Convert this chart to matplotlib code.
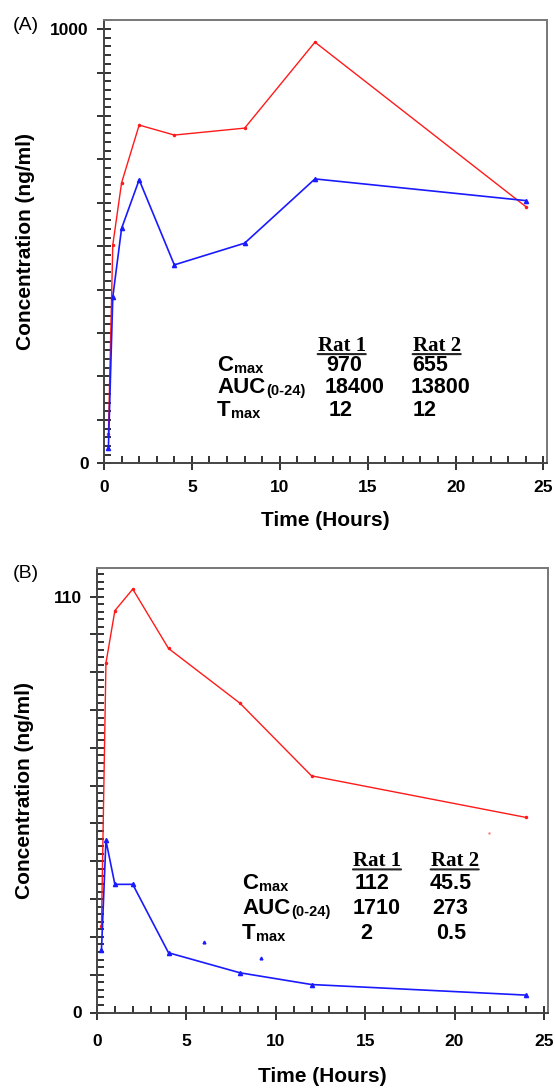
import numpy as np
import matplotlib
matplotlib.use("Agg")
import matplotlib.pyplot as plt
from matplotlib.ticker import MultipleLocator, FuncFormatter

plt.rcParams['font.family'] = ['Liberation Sans', 'DejaVu Sans']

# sampling times (hours)
time = [0.25, 0.5, 1, 2, 4, 8, 12, 24]

# panel A concentrations (ng/ml)
a_rat1 = [67, 503, 646, 779, 756, 772, 970, 591]
a_rat2 = [35, 383, 541, 653, 457, 507, 655, 605]

# panel B concentrations (ng/ml)
b_rat1 = [23, 92.4, 106.3, 112, 96.3, 81.8, 62.6, 51.6]
b_rat2 = [16.5, 45.5, 33.9, 33.9, 15.8, 10.5, 7.4, 4.6]

# a few loose specks in panel B
b_speck_x_blue = [6.0, 9.2]
b_speck_y_blue = [18.7, 14.5]
b_speck_x_red = [21.95]
b_speck_y_red = [47.6]

# summary tables
heads = ['Rat 1', 'Rat 2']
row_main = ['C', 'AUC', 'T']
row_sub = ['max', '(0-24)', 'max']
a_vals = [['970', '655'], ['18400', '13800'], ['12', '12']]
b_vals = [['112', '45.5'], ['1710', '273'], ['2', '0.5']]

RED = '#ff1a1a'
BLUE = '#1a1aff'
TICK = '#222222'


def style_axes(ax, ymax, ymajor, yminor, ylabels, xpad):
    ax.set_xlim(0, 25.2)
    ax.set_ylim(0, ymax)
    ax.xaxis.set_major_locator(MultipleLocator(5))
    ax.xaxis.set_minor_locator(MultipleLocator(1))
    ax.yaxis.set_major_locator(MultipleLocator(ymajor))
    ax.yaxis.set_minor_locator(MultipleLocator(yminor))
    ax.yaxis.set_major_formatter(FuncFormatter(
        lambda v, p: ('%d' % round(v)) if any(abs(v - l) < 1e-6 for l in ylabels) else ''))
    ax.tick_params(axis='x', which='major', direction='inout', length=10, width=1.3,
                   color=TICK, labelsize=12.5, pad=xpad, bottom=True, top=False)
    ax.tick_params(axis='x', which='minor', direction='in', length=5, width=1.3,
                   color=TICK, bottom=True, top=False)
    ax.tick_params(axis='y', which='major', direction='inout', length=10, width=1.3,
                   color=TICK, labelsize=12.5, pad=6, left=True, right=False)
    ax.tick_params(axis='y', which='minor', direction='in', length=5, width=1.3,
                   color=TICK, left=True, right=False)
    for lab in ax.get_xticklabels() + ax.get_yticklabels():
        lab.set_fontweight('bold')
    for s in ax.spines.values():
        s.set_color('#444444')
        s.set_linewidth(1.4)
    ax.spines['top'].set_color('#777777')
    ax.spines['right'].set_color('#777777')


def draw_table(ax, vals, hx, hy, lx, rows_y, vx, fs_lab=16, fs_val=15.5):
    for h, x in zip(heads, hx):
        t = ax.text(x, hy, h, transform=ax.transAxes, ha='center', va='baseline',
                    fontsize=15, fontweight='bold', family='Liberation Serif')
        ax.annotate('', xy=(1.0, 0.08), xycoords=t, xytext=(0.0, 0.08), textcoords=t,
                    arrowprops=dict(arrowstyle='-', lw=1.5, color='#222222',
                                    shrinkA=0, shrinkB=0))
    for i, y in enumerate(rows_y):
        t = ax.text(lx, y, row_main[i], transform=ax.transAxes, ha='left', va='baseline',
                    fontsize=fs_lab, fontweight='bold')
        ax.annotate(row_sub[i], xy=(1, 0), xycoords=t, xytext=(0.5, 0),
                    textcoords='offset points', ha='left', va='bottom',
                    fontsize=10.5, fontweight='bold')
        for j in range(2):
            ax.text(vx[i][j], y, vals[i][j], transform=ax.transAxes, ha='center',
                    va='baseline', fontsize=fs_val, fontweight='bold')


fig = plt.figure(figsize=(5.55, 10.89), dpi=100)
axA = fig.add_axes([104 / 555, 1 - 463.3 / 1089, 443 / 555, 443.3 / 1089])
axB = fig.add_axes([97 / 555, 1 - 1012.5 / 1089, 450.5 / 555, 444.2 / 1089])

# panel A
axA.plot(time, a_rat1, color=RED, lw=1.0, marker='.', ms=3)
axA.plot(time, a_rat2, color=BLUE, lw=1.2, marker='^', ms=3)
style_axes(axA, 1021, 100, 20, [0, 1000], 7)
axA.set_xlabel('Time (Hours)', fontsize=15, fontweight='bold')
axA.xaxis.set_label_coords(0.5, -0.128)
axA.xaxis.label.set_va('center')
axA.set_ylabel('Concentration (ng/ml)', fontsize=15, fontweight='bold')
axA.yaxis.set_label_coords(-0.178, 0.5)
axA.yaxis.label.set_va('center')
draw_table(axA, a_vals, [0.5366, 0.751], 0.254, 0.255, [0.2082, 0.158, 0.106],
           [[0.5418, 0.7359], [0.5666, 0.760], [0.534, 0.7246]])
fig.text(13 / 555, 1 - 25.5 / 1089, '(A)', fontsize=14, va='center', ha='left')

# panel B
axB.plot(time, b_rat1, color=RED, lw=1.0, marker='.', ms=3)
axB.plot(time, b_rat2, color=BLUE, lw=1.2, marker='^', ms=3)
axB.plot(b_speck_x_blue, b_speck_y_blue, ls='none', marker='^', ms=2, color=BLUE)
axB.plot(b_speck_x_red, b_speck_y_red, ls='none', marker='.', ms=1.5, color='#ff8080')
style_axes(axB, 117.5, 10, 2, [0, 110], 10.4)
axB.set_xlabel('Time (Hours)', fontsize=15, fontweight='bold')
axB.xaxis.set_label_coords(0.5, -0.1452)
axB.xaxis.label.set_va('center')
axB.set_ylabel('Concentration (ng/ml)', fontsize=15, fontweight='bold')
axB.yaxis.set_label_coords(-0.16, 0.5)
axB.yaxis.label.set_va('center')
draw_table(axB, b_vals, [0.6215, 0.794], 0.3298, 0.322, [0.2773, 0.221, 0.1648],
           [[0.6104, 0.7858], [0.6215, 0.7836], [0.597, 0.7858]])
fig.text(13 / 555, 1 - 574 / 1089, '(B)', fontsize=14, va='center', ha='left')

fig.savefig('out.png', dpi=100)
